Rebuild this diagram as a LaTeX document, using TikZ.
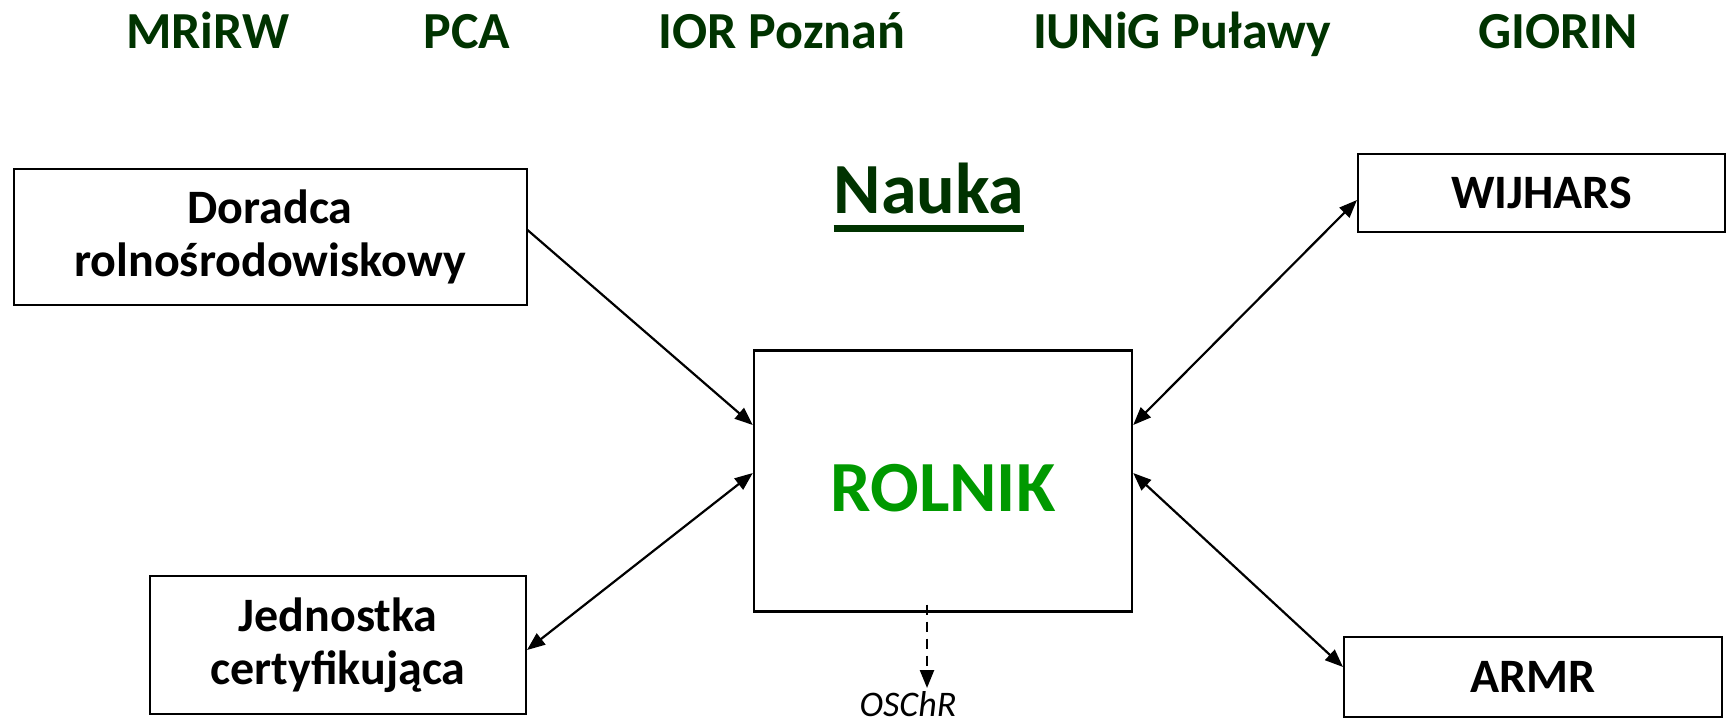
\documentclass[tikz,border=0pt]{standalone}
\usepackage{fontspec}
\setmainfont{Carlito}
\usetikzlibrary{arrows.meta}

\definecolor{ciemnozielony}{RGB}{0,51,0}
\definecolor{zielony}{RGB}{0,153,0}

% gruba kreska pod tekstem
\newcommand\grubepodkr[1]{\setbox0\hbox{#1}\rlap{\rule[-9.5pt]{\wd0}{3.5pt}}\box0}

\begin{document}
\begin{tikzpicture}[
  x=0.5pt, y=-0.5pt,
  box/.style={draw, line width=1pt, align=center, inner sep=0pt,
    font=\bfseries\fontsize{24}{26.5}\selectfont},
  inst/.style={anchor=base, text=ciemnozielony,
    font=\bfseries\fontsize{26}{30}\selectfont},
  link/.style={line width=1.1pt, -{Triangle[length=9pt,width=7pt]}},
  dlink/.style={line width=1.1pt,
    {Triangle[length=9pt,width=7pt]}-{Triangle[length=9pt,width=7pt]}}]

\useasboundingbox (0,0) rectangle (1727,724);

% instytucje
\node[inst] (mrirw) at (208,48) {MRiRW};
\node[inst] (pca) at (467,48) {PCA};
\node[inst] (ior) at (782,48) {IOR Poznań};
\node[inst] (iung) at (1182,48) {IUNiG Puławy};
\node[inst] (giorin) at (1558,48) {GIORIN};

\node[inst, font=\bfseries\fontsize{36}{40}\selectfont] (nauka) at (929,213) {\grubepodkr{Nauka}};

% prostokaty
\node[box, minimum width=256.5pt, minimum height=68pt] (doradca) at (270,237) {Doradca\\rolnośrodowiskowy};
\node[box, minimum width=183.5pt, minimum height=39pt] (wijhars) at (1541.5,193) {WIJHARS};
\node[box, line width=1.2pt, minimum width=189pt, minimum height=130.5pt,
  text=zielony, font=\bfseries\fontsize{36}{40}\selectfont, text height=31pt] (rolnik) at (943,481) {ROLNIK};
\node[box, minimum width=188pt, minimum height=69pt] (jednostka) at (338,645) {Jednostka\\certyfikująca};
\node[box, minimum width=189pt, minimum height=40pt] (armr) at (1533,677) {ARMR};

\node[anchor=base, inner sep=0pt, font=\itshape\fontsize{18}{20}\selectfont] (oschr) at (908,716) {OSChR};
\coordinate (oschrtip) at (927,688);

% polaczenia
\draw[link] ([yshift=3.5pt]doradca.east) -- ([yshift=28pt]rolnik.west);
\draw[dlink] ([yshift=-2.5pt]jednostka.east) -- ([yshift=4pt]rolnik.west);
\draw[dlink] ([yshift=-3.5pt]wijhars.west) -- ([yshift=28pt]rolnik.east);
\draw[dlink] ([yshift=4pt]rolnik.east) -- ([yshift=5pt]armr.west);
\draw[link, line width=1.2pt, dash pattern=on 5pt off 3.5pt] ([xshift=-8pt,yshift=4pt]rolnik.south) -- (oschrtip);
\end{tikzpicture}
\end{document}
